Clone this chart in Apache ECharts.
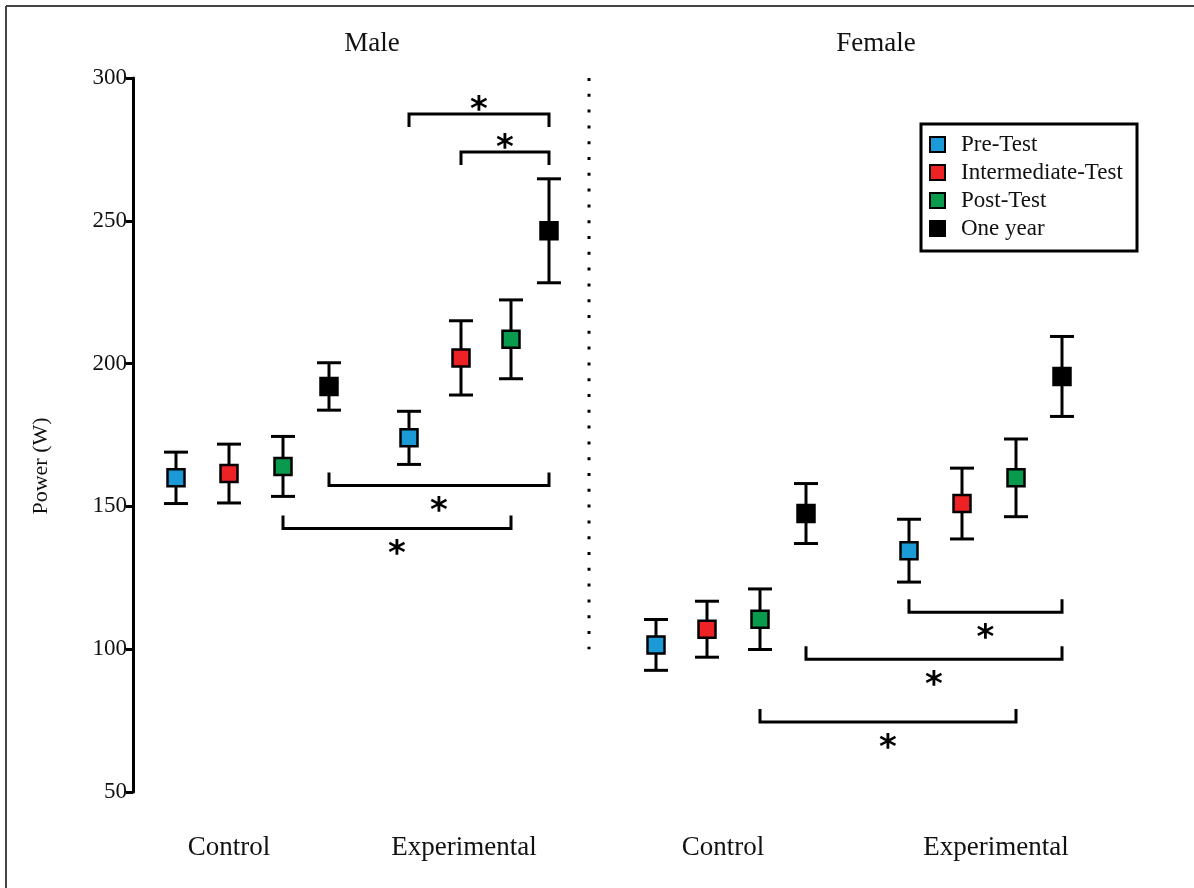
<!DOCTYPE html>
<html>
<head>
<meta charset="utf-8">
<script src="https://cdn.jsdelivr.net/npm/echarts@6/dist/echarts.min.js"></script>
<style>
  html, body { margin: 0; padding: 0; background: #fff; }
  #chart { width: 1194px; height: 888px; }
</style>
</head>
<body>
<div id="chart"></div>
<script>
// Test sessions (legend order) and their marker colours
const tests = ['Pre-Test', 'Intermediate-Test', 'Post-Test', 'One year'];
const testColors = ['#1b9ad7', '#ed2224', '#0a9a4e', '#000000'];

// Groups, left to right
const groups = ['Male Control', 'Male Experimental', 'Female Control', 'Female Experimental'];
const groupLabels = ['Control', 'Experimental', 'Control', 'Experimental'];
const sexTitles = ['Male', 'Female'];
const yAxisTitle = 'Power (W)';

// Horizontal slot of each marker, per group, in test order
const slots = [
  [0.86, 1.92, 3.00, 3.92],
  [5.52, 6.56, 7.56, 8.32],
  [10.46, 11.48, 12.54, 13.46],
  [15.52, 16.58, 17.66, 18.58]
];
const labelSlots = [1.92, 6.62, 11.80, 17.26];
const titleSlots = [4.78, 14.86];
const separatorSlot = 9.12;
const separatorSpan = [100, 300];

// Mean power (W), per group, in test order
const meanPower = [
  [160.0, 161.5, 164.0, 192.0],
  [174.0, 202.0, 208.5, 246.5],
  [101.5, 107.0, 110.5, 147.5],
  [134.5, 151.0, 160.0, 195.5]
];
// Error (W), per group, in test order
const errPower = [
  [9.0, 10.3, 10.5, 8.3],
  [9.3, 13.0, 13.8, 18.2],
  [8.9, 9.8, 10.6, 10.5],
  [11.0, 12.4, 13.6, 14.0]
];

// Power axis ticks
const yTicks = [50, 100, 150, 200, 250, 300];

// Significance brackets: endpoints as [group, test], bracket level (W), side of the star
const brackets = [
  { a: [1, 0], b: [1, 3], level: 287.4, side: 'top' },
  { a: [1, 1], b: [1, 3], level: 274.1, side: 'top' },
  { a: [0, 3], b: [1, 3], level: 157.3, side: 'bottom' },
  { a: [0, 2], b: [1, 2], level: 142.3, side: 'bottom' },
  { a: [3, 0], b: [3, 3], level: 112.9, side: 'bottom' },
  { a: [2, 3], b: [3, 3], level: 96.5,  side: 'bottom' },
  { a: [2, 2], b: [3, 2], level: 74.5,  side: 'bottom' }
];

const SERIF = '"Liberation Serif", "DejaVu Serif", serif';
const chart = echarts.init(document.getElementById('chart'), null, { renderer: 'canvas' });

// Error bar data: [slot, low, high]
const errorData = [];
groups.forEach((g, gi) => {
  tests.forEach((t, ti) => {
    const m = meanPower[gi][ti], e = errPower[gi][ti];
    errorData.push([slots[gi][ti], m - e, m + e]);
  });
});

// Bracket data: [slotA, slotB, level, sideFlag]
const bracketData = brackets.map(b => [
  slots[b.a[0]][b.a[1]], slots[b.b[0]][b.b[1]], b.level, b.side === 'top' ? 1 : -1
]);

const markerSeries = tests.map((t, ti) => ({
  name: t,
  type: 'scatter',
  symbol: 'rect',
  symbolSize: 17,
  z: 5,
  itemStyle: { color: testColors[ti], borderColor: '#000', borderWidth: 2.5, opacity: 1 },
  emphasis: { disabled: true },
  data: groups.map((g, gi) => [slots[gi][ti], meanPower[gi][ti]])
}));

const option = {
  backgroundColor: '#fff',
  animation: false,
  grid: { left: 133, right: 61, top: 78, bottom: 96, containLabel: false },
  xAxis: { type: 'value', min: 0, max: 20, show: false },
  yAxis: {
    type: 'value', min: yTicks[0], max: yTicks[yTicks.length - 1], interval: 50,
    axisLine: { show: true, lineStyle: { color: '#000', width: 3 } },
    axisTick: { show: true, length: 7, lineStyle: { color: '#000', width: 3 } },
    axisLabel: { fontFamily: SERIF, fontSize: 23, color: '#111', margin: 6 },
    splitLine: { show: false }
  },
  legend: {
    orient: 'vertical',
    left: 929, top: 133,
    itemWidth: 15, itemHeight: 15, itemGap: 5,
    icon: 'rect',
    selectedMode: false,
    padding: 0,
    textStyle: { fontFamily: SERIF, fontSize: 23, color: '#111', padding: [0, 0, 0, 11] },
    data: tests
  },
  series: [
    {
      name: 'errorbars',
      type: 'custom',
      z: 3,
      silent: true,
      renderItem: (params, api) => {
        const x = api.value(0);
        const lo = api.coord([x, api.value(1)]);
        const hi = api.coord([x, api.value(2)]);
        const w = 12;
        const style = { stroke: '#000', lineWidth: 3, fill: null };
        return {
          type: 'group',
          children: [
            { type: 'line', shape: { x1: lo[0], y1: lo[1], x2: hi[0], y2: hi[1] }, style },
            { type: 'line', shape: { x1: lo[0] - w, y1: lo[1], x2: lo[0] + w, y2: lo[1] }, style },
            { type: 'line', shape: { x1: hi[0] - w, y1: hi[1], x2: hi[0] + w, y2: hi[1] }, style }
          ]
        };
      },
      data: errorData
    },
    {
      name: 'brackets',
      type: 'custom',
      z: 4,
      silent: true,
      renderItem: (params, api) => {
        const p1 = api.coord([api.value(0), api.value(2)]);
        const p2 = api.coord([api.value(1), api.value(2)]);
        const dir = api.value(3); // 1: tips down, star above; -1: tips up, star below
        const tip = 13 * dir;
        const style = { stroke: '#000', lineWidth: 3, fill: null, lineJoin: 'miter' };
        const cx = (p1[0] + p2[0]) / 2;
        return {
          type: 'group',
          children: [
            { type: 'polyline', shape: { points: [[p1[0], p1[1] + tip], [p1[0], p1[1]], [p2[0], p2[1]], [p2[0], p2[1] + tip]] }, style },
            {
              type: 'text',
              x: cx, y: dir === 1 ? p1[1] - 3 : p1[1] + 27,
              style: {
                text: '*', fontFamily: '"DejaVu Sans", sans-serif', fontWeight: 'bold', fontSize: 34,
                fill: '#000', align: 'center', verticalAlign: 'middle'
              }
            }
          ]
        };
      },
      data: bracketData
    },
    {
      name: 'separator',
      type: 'custom',
      z: 2,
      silent: true,
      renderItem: (params, api) => {
        const top = api.coord([api.value(0), api.value(2)]);
        const bot = api.coord([api.value(0), api.value(1)]);
        return {
          type: 'line',
          shape: { x1: top[0], y1: top[1], x2: bot[0], y2: bot[1] },
          style: { stroke: '#000', lineWidth: 3, lineDash: [3, 12.8], lineCap: 'butt' }
        };
      },
      data: [[separatorSlot, separatorSpan[0], separatorSpan[1]]]
    },
    ...markerSeries
  ]
};

chart.setOption(option);

// Group labels, sex titles, axis title, legend frame and page frame
const graphics = [];
groupLabels.forEach((lab, i) => {
  const p = chart.convertToPixel({ gridIndex: 0 }, [labelSlots[i], 50]);
  graphics.push({
    type: 'text', x: p[0], y: 848,
    style: { text: lab, fontFamily: SERIF, fontSize: 27, fill: '#111', align: 'center', verticalAlign: 'middle' }
  });
});
sexTitles.forEach((lab, i) => {
  const p = chart.convertToPixel({ gridIndex: 0 }, [titleSlots[i], 300]);
  graphics.push({
    type: 'text', x: p[0], y: 44,
    style: { text: lab, fontFamily: SERIF, fontSize: 27, fill: '#111', align: 'center', verticalAlign: 'middle' }
  });
});
graphics.push({
  type: 'text', x: 41, y: 466, rotation: Math.PI / 2,
  style: { text: yAxisTitle, fontFamily: SERIF, fontSize: 22, fill: '#111', align: 'center', verticalAlign: 'middle' }
});
graphics.push({
  type: 'rect', shape: { x: 921, y: 124, width: 216, height: 127 },
  style: { fill: null, stroke: '#000', lineWidth: 3 }, z: 10
});
graphics.push({ type: 'line', shape: { x1: 6, y1: 6, x2: 1194, y2: 6 }, style: { stroke: '#444', lineWidth: 2 } });
graphics.push({ type: 'line', shape: { x1: 6, y1: 6, x2: 6, y2: 888 }, style: { stroke: '#444', lineWidth: 2 } });
chart.setOption({ graphic: graphics });
</script>
</body>
</html>
